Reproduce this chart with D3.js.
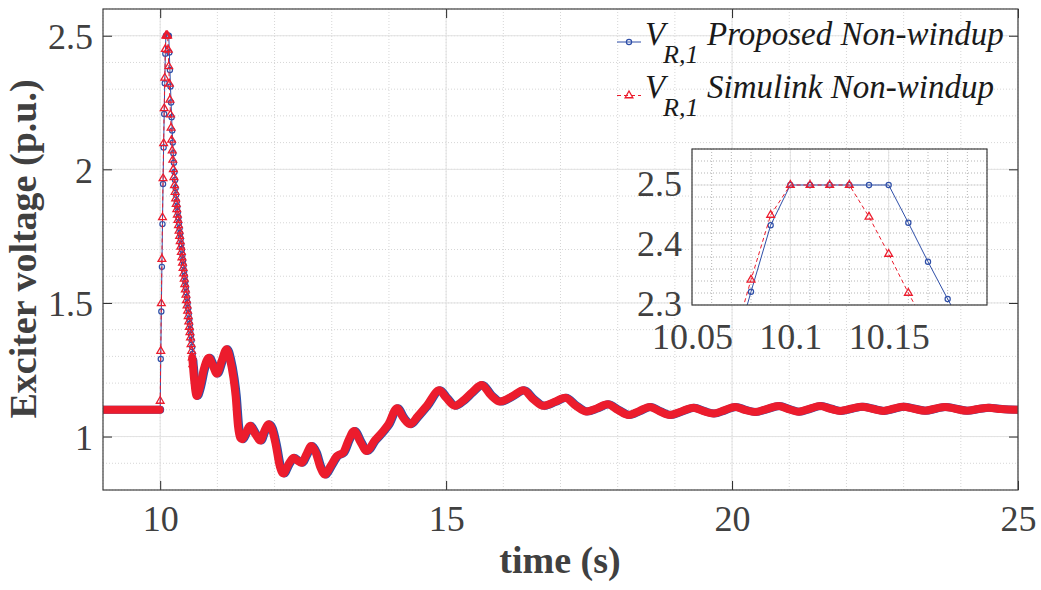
<!DOCTYPE html>
<html>
<head>
<meta charset="utf-8">
<script src="https://cdn.jsdelivr.net/npm/d3@7"></script>
<style>
  body { margin: 0; background: #fff; }
  text { font-family: "Liberation Serif", "Times New Roman", serif; }
</style>
</head>
<body>
<div id="chart"></div>
<script>
// Data (time in s, exciter voltage in p.u.)
var spikeDt = 0.01;
var spikeStart = 10.0;

// flat part before the fault
var blueFlat = [[9, 1.1], [10.0, 1.1]];
var redFlat = [[9, 1.1], [9.99, 1.1]];

// samples every 0.01 s starting at 10.00 s
var blueSpike = [1.10, 1.29, 1.468, 1.635, 1.795, 1.945, 2.082, 2.207, 2.322, 2.433,
  2.5, 2.5, 2.5, 2.5, 2.5, 2.5, 2.437, 2.372, 2.31, 2.25,
  2.195, 2.145, 2.10, 2.06, 2.025, 1.99, 1.96, 1.93, 1.905, 1.88,
  1.86, 1.84, 1.82, 1.80, 1.78, 1.76, 1.74, 1.72, 1.70, 1.68,
  1.66, 1.64, 1.62, 1.60, 1.58, 1.56, 1.54, 1.52, 1.50, 1.48,
  1.46, 1.44, 1.42, 1.40, 1.38, 1.36, 1.335, 1.31, 1.285, 1.26,
  1.235, 1.21, 1.19, 1.175, 1.163, 1.156, 1.152, 1.155];

var redSpike = [1.133, 1.32, 1.498, 1.664, 1.82, 1.966, 2.097, 2.228, 2.342, 2.45,
  2.5, 2.5, 2.5, 2.5, 2.447, 2.385, 2.32, 2.26, 2.205, 2.155,
  2.11, 2.07, 2.035, 2.0, 1.97, 1.94, 1.915, 1.89, 1.87, 1.85,
  1.83, 1.81, 1.79, 1.77, 1.75, 1.73, 1.71, 1.69, 1.67, 1.65,
  1.63, 1.61, 1.59, 1.57, 1.55, 1.53, 1.51, 1.49, 1.47, 1.45,
  1.43, 1.41, 1.39, 1.37, 1.345, 1.32, 1.295, 1.27, 1.245, 1.22,
  1.2, 1.18, 1.165, 1.155, 1.152, 1.155];

// oscillation after the spike (peaks / troughs)
var blueOsc = [[10.72,1.19],[10.78,1.25],[10.87,1.295],[10.94,1.265],[11.01,1.236],[11.09,1.28],
  [11.18,1.327],[11.24,1.29],[11.30,1.22],[11.34,1.15],[11.38,1.04],[11.42,0.995],[11.45,0.99],
  [11.52,1.015],[11.59,1.04],[11.68,1.01],[11.77,0.985],[11.84,1.02],[11.91,1.046],[11.97,1.03],
  [12.04,0.97],[12.11,0.89],[12.17,0.862],[12.26,0.895],[12.35,0.921],[12.42,0.91],[12.49,0.902],
  [12.58,0.935],[12.66,0.965],[12.74,0.94],[12.82,0.885],[12.90,0.858],[13.00,0.89],[13.11,0.927],
  [13.22,0.94],[13.32,0.99],[13.41,1.021],[13.52,0.98],[13.63,0.946],[13.77,0.985],[13.92,1.021],
  [14.01,1.046],[14.16,1.106],[14.27,1.07],[14.39,1.046],[14.52,1.075],[14.68,1.115],[14.90,1.173],
  [15.02,1.145],[15.17,1.115],[15.32,1.135],[15.47,1.165],[15.64,1.193],[15.80,1.155],[15.96,1.131],
  [16.17,1.15],[16.37,1.173],[16.54,1.14],[16.72,1.115],[16.92,1.13],[17.10,1.145],[17.29,1.115],
  [17.47,1.094],[17.65,1.105],[17.84,1.121],[18.02,1.10],[18.21,1.081],[18.39,1.095],[18.58,1.111],
  [18.75,1.095],[18.93,1.081],[19.12,1.093],[19.34,1.108],[19.52,1.095],[19.69,1.086],[19.88,1.098],
  [20.07,1.111],[20.24,1.10],[20.42,1.092],[20.62,1.103],[20.83,1.114],[21.02,1.102],[21.18,1.093],
  [21.37,1.104],[21.56,1.114],[21.74,1.104],[21.91,1.096],[22.10,1.104],[22.29,1.112],[22.47,1.104],
  [22.66,1.096],[22.84,1.104],[23.01,1.112],[23.20,1.104],[23.39,1.097],[23.57,1.104],[23.74,1.111],
  [23.92,1.104],[24.12,1.097],[24.32,1.103],[24.50,1.108],[24.72,1.103],[25.00,1.10]];

var redOsc = [[10.70,1.19],[10.76,1.25],[10.85,1.295],[10.92,1.265],[10.99,1.236],[11.07,1.28],
  [11.16,1.327],[11.22,1.29],[11.28,1.22],[11.32,1.15],[11.36,1.04],[11.40,0.995],[11.43,0.99],
  [11.50,1.015],[11.57,1.04],[11.66,1.01],[11.75,0.985],[11.82,1.02],[11.89,1.046],[11.95,1.03],
  [12.02,0.97],[12.09,0.89],[12.15,0.862],[12.24,0.895],[12.33,0.921],[12.40,0.91],[12.47,0.902],
  [12.56,0.935],[12.64,0.965],[12.72,0.94],[12.80,0.885],[12.88,0.858],[12.98,0.89],[13.09,0.927],
  [13.20,0.94],[13.30,0.99],[13.39,1.021],[13.50,0.98],[13.61,0.946],[13.75,0.985],[13.90,1.021],
  [13.99,1.046],[14.14,1.106],[14.25,1.07],[14.37,1.046],[14.50,1.075],[14.66,1.115],[14.88,1.173],
  [15.00,1.145],[15.15,1.115],[15.30,1.135],[15.45,1.165],[15.62,1.193],[15.78,1.155],[15.94,1.131],
  [16.15,1.15],[16.35,1.173],[16.52,1.14],[16.70,1.115],[16.90,1.13],[17.08,1.145],[17.27,1.115],
  [17.45,1.094],[17.63,1.105],[17.82,1.121],[18.00,1.10],[18.19,1.081],[18.37,1.095],[18.56,1.111],
  [18.73,1.095],[18.91,1.081],[19.10,1.093],[19.32,1.108],[19.50,1.095],[19.67,1.086],[19.86,1.098],
  [20.05,1.111],[20.22,1.10],[20.40,1.092],[20.60,1.103],[20.81,1.114],[21.00,1.102],[21.16,1.093],
  [21.35,1.104],[21.54,1.114],[21.72,1.104],[21.89,1.096],[22.08,1.104],[22.27,1.112],[22.45,1.104],
  [22.64,1.096],[22.82,1.104],[22.99,1.112],[23.18,1.104],[23.37,1.097],[23.55,1.104],[23.72,1.111],
  [23.90,1.104],[24.10,1.097],[24.30,1.103],[24.48,1.108],[24.70,1.103],[25.00,1.10]];

var xTicks = [10, 15, 20, 25];
var yTicks = [1, 1.5, 2, 2.5];
var insetXTicks = [10.05, 10.1, 10.15];
var insetXLabels = ["10.05", "10.1", "10.15"];
var insetYTicks = [2.3, 2.4, 2.5];

var seriesNames = ["Proposed Non-windup", "Simulink Non-windup"];
var blueColor = "#2f4fa8";
var redColor = "#ec1c2d";

// Set up SVG
var svgWidth = 1041;
var svgHeight = 590;

var svg = d3.select("#chart")
 .append("svg")
 .attr("width", svgWidth)
 .attr("height", svgHeight)
 .style("background", "#fff");

var plot = { left: 103, right: 1018, top: 9, bottom: 490 };
var inset = { left: 692, right: 987, top: 149, bottom: 305 };

var xScale = d3.scaleLinear().domain([9, 25]).range([plot.left, plot.right]);
var yScale = d3.scaleLinear().domain([0.8, 2.6]).range([plot.bottom, plot.top]);

var ixScale = d3.scaleLinear().domain([10.05, 10.2]).range([inset.left, inset.right]);
var iyScale = d3.scaleLinear().domain([2.3, 2.56]).range([inset.bottom, inset.top]);

function spikePoints(values) {
    return values.map((v, i) => [spikeStart + i * spikeDt, v]);
}

var blueAll = blueFlat.concat(spikePoints(blueSpike), blueOsc);
var redAll = redFlat.concat(spikePoints(redSpike), redOsc);

// the dense markers merge into a thick band outside the spike
var blueBand = spikePoints(blueSpike).filter(d => d[0] >= 10.58).concat(blueOsc);
var redBand = spikePoints(redSpike).filter(d => d[0] >= 10.56).concat(redOsc);

// Grid
function drawGrid(g, xs, ys, xMinor, yMinor, xMajor, yMajor, box, minorColor) {
    g.selectAll(".xminor").data(xMinor).enter().append("line")
     .attr("x1", d => xs(d)).attr("x2", d => xs(d))
     .attr("y1", box.top).attr("y2", box.bottom)
     .attr("stroke", minorColor).attr("stroke-dasharray", "1,2");
    g.selectAll(".yminor").data(yMinor).enter().append("line")
     .attr("y1", d => ys(d)).attr("y2", d => ys(d))
     .attr("x1", box.left).attr("x2", box.right)
     .attr("stroke", minorColor).attr("stroke-dasharray", "1,2");
    g.selectAll(".xmajor").data(xMajor).enter().append("line")
     .attr("x1", d => xs(d)).attr("x2", d => xs(d))
     .attr("y1", box.top).attr("y2", box.bottom)
     .attr("stroke", "#e3e3e3");
    g.selectAll(".ymajor").data(yMajor).enter().append("line")
     .attr("y1", d => ys(d)).attr("y2", d => ys(d))
     .attr("x1", box.left).attr("x2", box.right)
     .attr("stroke", "#e3e3e3");
}

var mainGrid = svg.append("g");
drawGrid(mainGrid, xScale, yScale,
    d3.range(9, 25.01, 1), d3.range(0.8, 2.61, 0.1), xTicks, yTicks, plot, "#d6d6d6");

// Clip
var defs = svg.append("defs");
defs.append("clipPath").attr("id", "clipMain").append("rect")
 .attr("x", plot.left).attr("y", plot.top)
 .attr("width", plot.right - plot.left).attr("height", plot.bottom - plot.top);
defs.append("clipPath").attr("id", "clipInset").append("rect")
 .attr("x", inset.left).attr("y", inset.top)
 .attr("width", inset.right - inset.left).attr("height", inset.bottom - inset.top);

var triangle = d3.symbol().type(d3.symbolTriangle).size(26);

function drawSeries(g, xs, ys, all, flat, band, spike, color, dashed, marker, withBand) {
    var thin = d3.line().x(d => xs(d[0])).y(d => ys(d[1]));
    var smooth = d3.line().x(d => xs(d[0])).y(d => ys(d[1])).curve(d3.curveMonotoneX);

    if (withBand) {
        [flat, band].forEach(function(seg) {
            g.append("path")
             .attr("d", smooth(seg))
             .attr("fill", "none")
             .attr("stroke", color)
             .attr("stroke-width", 8)
             .attr("stroke-linejoin", "round")
             .attr("stroke-linecap", "round");
        });
    }

    g.append("path")
     .attr("d", thin(all))
     .attr("fill", "none")
     .attr("stroke", color)
     .attr("stroke-width", 1)
     .attr("stroke-dasharray", dashed ? "4,3" : null);

    if (marker === "circle") {
        g.selectAll(".m").data(spike).enter().append("circle")
         .attr("cx", d => xs(d[0]))
         .attr("cy", d => ys(d[1]))
         .attr("r", 2.6)
         .attr("fill", "none")
         .attr("stroke", color)
         .attr("stroke-width", 1.2);
    }
    else {
        g.selectAll(".m").data(spike).enter().append("path")
         .attr("d", triangle)
         .attr("transform", d => `translate(${xs(d[0])},${ys(d[1])})`)
         .attr("fill", "none")
         .attr("stroke", color)
         .attr("stroke-width", 1.3);
    }
}

var mainLines = svg.append("g").attr("clip-path", "url(#clipMain)");
drawSeries(mainLines, xScale, yScale, blueAll, blueFlat, blueBand,
    spikePoints(blueSpike).filter(d => d[0] < 10.6), blueColor, false, "circle", true);
drawSeries(mainLines, xScale, yScale, redAll, redFlat, redBand,
    spikePoints(redSpike).filter(d => d[0] < 10.58), redColor, true, "triangle", true);

// Axes of the main plot
var tickColor = "#262626";
var labelColor = "#404040";

function styleAxis(g) {
    g.select(".domain").remove();
    g.selectAll(".tick line").attr("stroke", tickColor);
    g.selectAll(".tick text")
     .attr("fill", labelColor)
     .style("font-family", "'Liberation Serif', 'Times New Roman', serif")
     .style("font-size", "36px");
}

svg.append("g")
 .attr("transform", `translate(0, ${plot.bottom})`)
 .call(d3.axisBottom(xScale).tickValues(xTicks).tickSize(-9).tickPadding(15).tickFormat(d3.format("d")))
 .call(styleAxis);

svg.append("g")
 .attr("transform", `translate(0, ${plot.top})`)
 .call(d3.axisTop(xScale).tickValues(xTicks).tickSize(-9).tickFormat(""))
 .call(styleAxis);

svg.append("g")
 .attr("transform", `translate(${plot.left}, 0)`)
 .call(d3.axisLeft(yScale).tickValues(yTicks).tickSize(-9).tickPadding(10).tickFormat(d3.format("")))
 .call(styleAxis)
 .selectAll(".tick text").attr("dy", "0.36em");

svg.append("g")
 .attr("transform", `translate(${plot.right}, 0)`)
 .call(d3.axisRight(yScale).tickValues(yTicks).tickSize(-9).tickFormat(""))
 .call(styleAxis);

svg.append("rect")
 .attr("x", plot.left).attr("y", plot.top)
 .attr("width", plot.right - plot.left).attr("height", plot.bottom - plot.top)
 .attr("fill", "none")
 .attr("stroke", "#404040")
 .attr("stroke-width", 1.2);

// Axis titles
svg.append("text")
 .attr("x", 560)
 .attr("y", 573)
 .attr("text-anchor", "middle")
 .attr("fill", labelColor)
 .style("font-size", "38px")
 .style("font-weight", "bold")
 .text("time (s)");

svg.append("text")
 .attr("transform", "translate(36, 249) rotate(-90)")
 .attr("text-anchor", "middle")
 .attr("fill", labelColor)
 .style("font-size", "38px")
 .style("font-weight", "bold")
 .text("Exciter voltage (p.u.)");

// Legend
var legendRows = [
    { y: 45, lineY: 42, color: blueColor, dashed: false, marker: "circle", name: seriesNames[0] },
    { y: 98, lineY: 95.5, color: redColor, dashed: true, marker: "triangle", name: seriesNames[1] }
];

var legend = svg.append("g");
legendRows.forEach(function(row) {
    legend.append("line")
     .attr("x1", 617).attr("x2", 641)
     .attr("y1", row.lineY).attr("y2", row.lineY)
     .attr("stroke", row.color)
     .attr("stroke-dasharray", row.dashed ? "4,3" : null);
    if (row.marker === "circle") {
        legend.append("circle")
         .attr("cx", 629).attr("cy", row.lineY).attr("r", 2.6)
         .attr("fill", "none").attr("stroke", row.color).attr("stroke-width", 1.2);
    }
    else {
        legend.append("path")
         .attr("d", triangle)
         .attr("transform", `translate(629, ${row.lineY})`)
         .attr("fill", "none").attr("stroke", row.color).attr("stroke-width", 1.3);
    }
    legend.append("text")
     .attr("x", 645).attr("y", row.y)
     .attr("fill", "#1a1a1a")
     .style("font-size", "33px").style("font-style", "italic")
     .text("V");
    legend.append("text")
     .attr("x", 663).attr("y", row.y + 18)
     .attr("fill", "#1a1a1a")
     .style("font-size", "26px").style("font-style", "italic")
     .text("R,1");
    legend.append("text")
     .attr("x", 707).attr("y", row.y)
     .attr("fill", "#1a1a1a")
     .style("font-size", "33px").style("font-style", "italic")
     .text(row.name);
});

// Inset (zoom on the limiter plateau)
svg.append("rect")
 .attr("x", inset.left).attr("y", inset.top)
 .attr("width", inset.right - inset.left).attr("height", inset.bottom - inset.top)
 .attr("fill", "#fff");

var insetGrid = svg.append("g");
drawGrid(insetGrid, ixScale, iyScale,
    d3.range(10.05, 10.2001, 0.01), d3.range(2.3, 2.5601, 0.02), insetXTicks, insetYTicks, inset, "#b5b5b5");

var insetLines = svg.append("g").attr("clip-path", "url(#clipInset)");
var blueIn = spikePoints(blueSpike).filter(d => d[0] > 10.04 && d[0] < 10.22);
var redIn = spikePoints(redSpike).filter(d => d[0] > 10.04 && d[0] < 10.22);
drawSeries(insetLines, ixScale, iyScale, blueIn, [], [], blueIn, blueColor, false, "circle", false);
drawSeries(insetLines, ixScale, iyScale, redIn, [], [], redIn, redColor, true, "triangle", false);

svg.append("g")
 .attr("transform", `translate(0, ${inset.bottom})`)
 .call(d3.axisBottom(ixScale).tickValues(insetXTicks).tickSize(0).tickPadding(18)
     .tickFormat((d, i) => insetXLabels[i]))
 .call(styleAxis);

svg.append("g")
 .attr("transform", `translate(${inset.left}, 0)`)
 .call(d3.axisLeft(iyScale).tickValues(insetYTicks).tickSize(0).tickPadding(10).tickFormat(d3.format(".1f")))
 .call(styleAxis)
 .selectAll(".tick text").attr("dy", "0.3em");

svg.append("rect")
 .attr("x", inset.left).attr("y", inset.top)
 .attr("width", inset.right - inset.left).attr("height", inset.bottom - inset.top)
 .attr("fill", "none")
 .attr("stroke", "#404040")
 .attr("stroke-width", 1.2);
</script>
</body>
</html>
